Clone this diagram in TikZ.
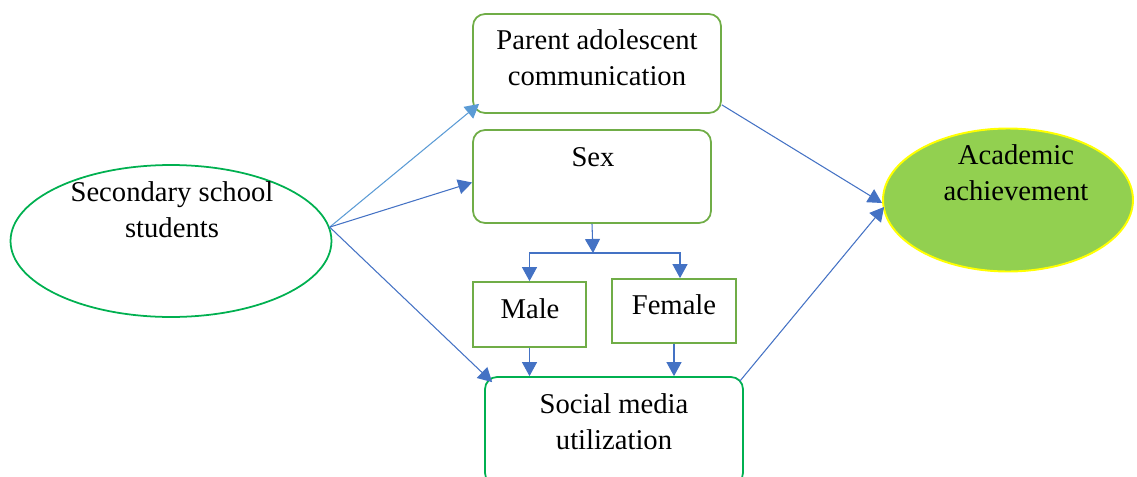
\documentclass[tikz,border=0pt]{standalone}
\usepackage{xcolor}
\usepackage{fontspec}
\setmainfont{Liberation Serif}
\usepackage{tikz}
\usetikzlibrary{shapes,arrows.meta,calc}
\definecolor{boxgreen}{HTML}{70AD47}
\definecolor{darkgreen}{HTML}{00B050}
\definecolor{linkblue}{HTML}{4472C4}
\definecolor{lightblue}{HTML}{5B9BD5}
\definecolor{achfill}{HTML}{92D050}
\definecolor{achline}{HTML}{FFFF00}

\begin{document}
\begin{tikzpicture}[x=0.02cm,y=-0.02cm]
            \tikzstyle{roundbox}=[draw=boxgreen, line width=1pt, rounded corners=0.24cm, inner sep=0pt];
            \tikzstyle{plainbox}=[draw=boxgreen, line width=1pt, inner sep=0pt];
            \tikzstyle{boxtext}=[font=\fontsize{16.3}{20.5}\selectfont, align=center, inner sep=0pt];
            \tikzstyle{link}=[draw=linkblue, line width=0.6pt, -{Triangle[width=0.3cm,length=0.28cm]}];

            % Fix the page size
            \useasboundingbox (0,0) rectangle (1137,477);

            % Define the two ellipses
            \node[draw=darkgreen, line width=1pt, ellipse, minimum width=6.42cm, minimum height=3.04cm] (stud) at (171,241) {};
            \node[draw=achline, fill=achfill, line width=1.1pt, ellipse, minimum width=5.0cm, minimum height=2.86cm] (ach) at (1008,200) {};

            % Define the boxes in the middle
            \node[roundbox, minimum width=4.96cm, minimum height=1.98cm] (par) at (597,63.5) {};
            \node[roundbox, minimum width=4.76cm, minimum height=1.86cm] (sex) at (592,176.5) {};
            \node[plainbox, minimum width=2.26cm, minimum height=1.30cm] (male) at (529.5,314.5) {};
            \node[plainbox, minimum width=2.48cm, minimum height=1.28cm] (fem) at (674,311) {};
            \node[roundbox, draw=darkgreen, minimum width=5.16cm, minimum height=2.16cm] (soc) at (614,431) {};

            % Write the texts
            \node[boxtext] (stud-t) at (172,210) {Secondary school\\students};
            \node[boxtext] (ach-t) at (1016,172.5) {Academic\\achievement};
            \node[boxtext] (par-t) at (597,57.5) {Parent adolescent\\communication};
            \node[boxtext] (sex-t) at (593,157) {Sex};
            \node[boxtext] (male-t) at (530,309) {Male};
            \node[boxtext] (fem-t) at (674,305) {Female};
            \node[boxtext] (soc-t) at (614,421.5) {Social media\\utilization};

            % Arrows from the students
            \draw[link, draw=lightblue] (stud.5) -- ($(par.south west)+(7,-10)$);
            \draw[link] (stud.5) -- ($(sex.west)+(0,6)$);
            \draw[link] (stud.5) -- ($(soc.north west)+(8,6)$);

            % Sex splits into male and female
            \coordinate (split) at (593,253);
            \draw[link] (sex.south) -- (split);
            \draw[link] (split) -| (male.north);
            \draw[link] (split) -| ($(fem.north)+(6,0)$);
            \draw[link] (male.south) -- (male.south |- soc.north);
            \draw[link] (fem.south) -- (fem.south |- soc.north);

            % Arrows into achievement
            \draw[link] ($(par.south east)+(0,-9)$) -- ($(ach.west)+(0,3)$);
            \draw[link] ($(soc.north east)+(-4,5)$) -- ($(ach.west)+(2,7)$);
        \end{tikzpicture}
\end{document}
